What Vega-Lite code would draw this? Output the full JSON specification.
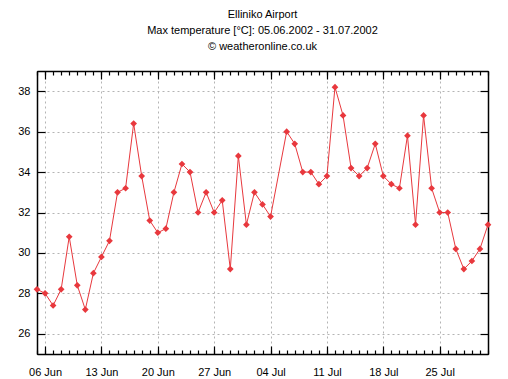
{
  "$schema": "https://vega.github.io/schema/vega-lite/v6.json",
  "width": 451,
  "height": 283,
  "autosize": "none",
  "padding": {"left": 37, "top": 71, "right": 20, "bottom": 25},
  "background": "#ffffff",
  "config": {
    "view": {"stroke": "#000000", "strokeWidth": 1},
    "font": "Liberation Sans",
    "axis": {"labelFont": "Liberation Sans", "labelFontSize": 11, "labelColor": "#000000", "domainColor": "#000000", "domainWidth": 1.5, "tickColor": "#000000", "tickWidth": 1.2, "gridColor": "#b4b4b4", "gridDash": [2, 3], "gridWidth": 1, "title": null}
  },
  "title": {
    "text": ["Elliniko Airport", "Max temperature [°C]: 05.06.2002 - 31.07.2002", "© weatheronline.co.uk"],
    "font": "Liberation Sans",
    "fontSize": 11,
    "fontWeight": "normal",
    "color": "#000000",
    "lineHeight": 16,
    "anchor": "middle",
    "offset": 18
  },
  "data": {
    "values": [
      {"date": "2002-06-05", "temp": 28.2},
      {"date": "2002-06-06", "temp": 28.0},
      {"date": "2002-06-07", "temp": 27.4},
      {"date": "2002-06-08", "temp": 28.2},
      {"date": "2002-06-09", "temp": 30.8},
      {"date": "2002-06-10", "temp": 28.4},
      {"date": "2002-06-11", "temp": 27.2},
      {"date": "2002-06-12", "temp": 29.0},
      {"date": "2002-06-13", "temp": 29.8},
      {"date": "2002-06-14", "temp": 30.6},
      {"date": "2002-06-15", "temp": 33.0},
      {"date": "2002-06-16", "temp": 33.2},
      {"date": "2002-06-17", "temp": 36.4},
      {"date": "2002-06-18", "temp": 33.8},
      {"date": "2002-06-19", "temp": 31.6},
      {"date": "2002-06-20", "temp": 31.0},
      {"date": "2002-06-21", "temp": 31.2},
      {"date": "2002-06-22", "temp": 33.0},
      {"date": "2002-06-23", "temp": 34.4},
      {"date": "2002-06-24", "temp": 34.0},
      {"date": "2002-06-25", "temp": 32.0},
      {"date": "2002-06-26", "temp": 33.0},
      {"date": "2002-06-27", "temp": 32.0},
      {"date": "2002-06-28", "temp": 32.6},
      {"date": "2002-06-29", "temp": 29.2},
      {"date": "2002-06-30", "temp": 34.8},
      {"date": "2002-07-01", "temp": 31.4},
      {"date": "2002-07-02", "temp": 33.0},
      {"date": "2002-07-03", "temp": 32.4},
      {"date": "2002-07-04", "temp": 31.8},
      {"date": "2002-07-06", "temp": 36.0},
      {"date": "2002-07-07", "temp": 35.4},
      {"date": "2002-07-08", "temp": 34.0},
      {"date": "2002-07-09", "temp": 34.0},
      {"date": "2002-07-10", "temp": 33.4},
      {"date": "2002-07-11", "temp": 33.8},
      {"date": "2002-07-12", "temp": 38.2},
      {"date": "2002-07-13", "temp": 36.8},
      {"date": "2002-07-14", "temp": 34.2},
      {"date": "2002-07-15", "temp": 33.8},
      {"date": "2002-07-16", "temp": 34.2},
      {"date": "2002-07-17", "temp": 35.4},
      {"date": "2002-07-18", "temp": 33.8},
      {"date": "2002-07-19", "temp": 33.4},
      {"date": "2002-07-20", "temp": 33.2},
      {"date": "2002-07-21", "temp": 35.8},
      {"date": "2002-07-22", "temp": 31.4},
      {"date": "2002-07-23", "temp": 36.8},
      {"date": "2002-07-24", "temp": 33.2},
      {"date": "2002-07-25", "temp": 32.0},
      {"date": "2002-07-26", "temp": 32.0},
      {"date": "2002-07-27", "temp": 30.2},
      {"date": "2002-07-28", "temp": 29.2},
      {"date": "2002-07-29", "temp": 29.6},
      {"date": "2002-07-30", "temp": 30.2},
      {"date": "2002-07-31", "temp": 31.4}
    ]
  },
  "resolve": {"axis": {"x": "independent", "y": "independent"}},
  "layer": [
    {
      "mark": {"type": "line", "color": "#e8383d", "strokeWidth": 1, "clip": true},
      "encoding": {
        "x": {
          "field": "date", "type": "temporal",
          "scale": {"type": "utc", "domain": [{"year": 2002, "month": 6, "date": 5, "utc": true}, {"year": 2002, "month": 7, "date": 31, "utc": true}], "nice": false},
          "axis": {
            "orient": "bottom",
            "values": [
              {"year": 2002, "month": 6, "date": 6, "utc": true},
              {"year": 2002, "month": 6, "date": 13, "utc": true},
              {"year": 2002, "month": 6, "date": 20, "utc": true},
              {"year": 2002, "month": 6, "date": 27, "utc": true},
              {"year": 2002, "month": 7, "date": 4, "utc": true},
              {"year": 2002, "month": 7, "date": 11, "utc": true},
              {"year": 2002, "month": 7, "date": 18, "utc": true},
              {"year": 2002, "month": 7, "date": 25, "utc": true}
            ],
            "format": "%d %b",
            "tickSize": -8,
            "labelPadding": 20,
            "labelAngle": 0,
            "grid": true
          }
        },
        "y": {
          "field": "temp", "type": "quantitative",
          "scale": {"domain": [25, 39], "nice": false, "zero": false},
          "axis": {"orient": "left", "values": [26, 28, 30, 32, 34, 36, 38], "tickSize": -8, "labelPadding": 15, "grid": true}
        }
      }
    },
    {
      "mark": {"type": "point", "shape": "diamond", "filled": true, "size": 45, "color": "#e8383d", "opacity": 1},
      "encoding": {
        "x": {
          "field": "date", "type": "temporal",
          "axis": {
            "orient": "top",
            "values": [
              {"year": 2002, "month": 6, "date": 6, "utc": true},
              {"year": 2002, "month": 6, "date": 13, "utc": true},
              {"year": 2002, "month": 6, "date": 20, "utc": true},
              {"year": 2002, "month": 6, "date": 27, "utc": true},
              {"year": 2002, "month": 7, "date": 4, "utc": true},
              {"year": 2002, "month": 7, "date": 11, "utc": true},
              {"year": 2002, "month": 7, "date": 18, "utc": true},
              {"year": 2002, "month": 7, "date": 25, "utc": true}
            ],
            "tickSize": -8,
            "labels": false,
            "grid": false
          }
        },
        "y": {
          "field": "temp", "type": "quantitative",
          "axis": {"orient": "right", "values": [26, 28, 30, 32, 34, 36, 38], "tickSize": -8, "labels": false, "grid": false}
        }
      }
    },
    {
      "mark": {"type": "point", "opacity": 0},
      "encoding": {
        "x": {
          "field": "date", "type": "temporal",
          "axis": {"orient": "bottom", "tickCount": {"interval": "day", "step": 1}, "tickSize": -4, "labels": false, "grid": false, "domain": false}
        },
        "y": {"field": "temp", "type": "quantitative", "axis": null}
      }
    },
    {
      "mark": {"type": "point", "opacity": 0},
      "encoding": {
        "x": {
          "field": "date", "type": "temporal",
          "axis": {"orient": "top", "tickCount": {"interval": "day", "step": 1}, "tickSize": -4, "labels": false, "grid": false, "domain": false}
        },
        "y": {"field": "temp", "type": "quantitative", "axis": null}
      }
    }
  ]
}
